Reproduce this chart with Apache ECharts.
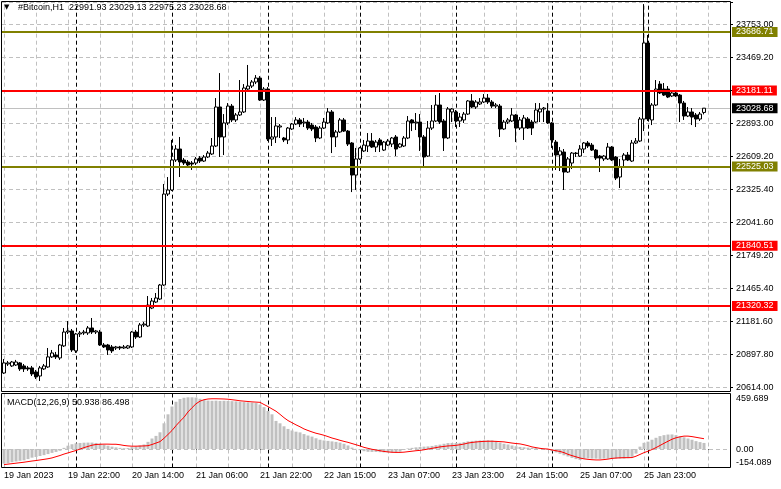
<!DOCTYPE html>
<html><head><meta charset="utf-8">
<script src="https://cdn.jsdelivr.net/npm/echarts@6.0.0/dist/echarts.min.js"></script>
<style>html,body{margin:0;padding:0;background:#fff}#chart{width:781px;height:489px}</style>
</head><body><div id="chart"></div>
<script>
// ---------------- data ----------------
const symbolName = '#Bitcoin,H1';
const timeLabels = ['19 Jan 2023','19 Jan 22:00','20 Jan 14:00','21 Jan 06:00','21 Jan 22:00','22 Jan 15:00','23 Jan 07:00','23 Jan 23:00','24 Jan 15:00','25 Jan 07:00','25 Jan 23:00'];
const priceTickLabels = ['20614.00','20897.80','21181.60','21465.40','21749.20','22041.60','22325.40','22609.20','22893.00','','23469.20','23753.00'];
const priceTickMin = 20614, priceTickMax = 23753, priceTop = 23946;
const levelValues = [23686.71, 23181.11, 22525.03, 21840.51, 21320.32];
const levelColors = ['#808000','#ff0000','#808000','#ff0000','#ff0000'];
const daySeparators = [18, 42, 66, 89, 113, 137, 161];

const open = [
20741,20819,20802,20810,20828,20802,20785,20785,20750,20715,
20776,20793,20880,20897,20871,20975,21095,21104,20932,21078,
21087,21087,21130,21095,21095,20983,20983,20966,20957,20966,
20957,20957,20966,21095,21052,21156,21147,21302,21354,21380,
21501,22287,22322,22581,22676,22581,22564,22555,22555,22598,
22572,22607,22633,22702,23039,22780,22901,23047,22927,22970,
22996,23194,23220,23255,23289,23099,23194,22762,22780,22866,
22771,22754,22849,22892,22927,22901,22909,22883,22866,22771,
22857,22901,22996,22780,22823,22927,22831,22728,22451,22590,
22659,22702,22745,22693,22754,22667,22710,22719,22780,22693,
22702,22771,22927,22901,22909,22780,22615,22857,22918,23056,
22918,22771,22996,22996,22918,22927,22978,23091,23039,23065,
23082,23116,23082,23047,23047,22849,22909,22918,22970,22857,
22857,22935,22909,22909,22996,23022,23004,22901,22736,22624,
22650,22477,22555,22641,22615,22676,22728,22710,22667,22615,
22590,22590,22693,22607,22434,22581,22624,22572,22728,22745,
22935,23592,22927,23056,23237,23194,23194,23134,23160,23142,
23073,22961,22996,22970,22935,22991.93];
const high = [
20862,20845,20845,20854,20836,20819,20802,20802,20767,20802,
20819,20957,20940,20923,20992,21130,21190,21121,21087,21104,
21113,21147,21216,21113,21113,21000,20992,20983,20975,20975,
20983,20983,21104,21113,21173,21182,21406,21389,21432,21510,
22374,22434,22754,22710,22780,22598,22581,22572,22607,22615,
22624,22659,22771,23116,23332,22978,23073,23065,22987,23272,
23237,23402,23272,23315,23306,23211,23211,22952,22952,22892,
22780,22866,22901,22952,22944,22944,22927,22901,22883,22875,
22944,23030,23013,22840,22944,22944,22840,22736,22685,22693,
22754,22814,22814,22754,22771,22745,22762,22780,22797,22728,
22788,22961,22935,22987,22978,22797,22918,23056,23142,23160,
22935,23039,23030,23013,22987,22996,23099,23151,23099,23116,
23151,23151,23099,23073,23065,22927,22944,23030,22978,22952,
22970,22952,22927,23073,23073,23039,23073,22909,22754,22693,
22676,22607,22650,22650,22710,22736,22745,22728,22676,22624,
22624,22728,22702,22615,22590,22641,22650,22754,22771,22952,
23928,23661,23073,23272,23263,23246,23220,23177,23177,23151,
23091,23039,23030,22987,22996,23029.13];
const low = [
20733,20802,20793,20802,20759,20750,20759,20715,20689,20672,
20767,20785,20871,20862,20854,20966,21078,20923,20914,21052,
21070,21070,21078,21078,20975,20957,20897,20914,20940,20940,
20949,20949,20957,21035,21044,21139,21139,21293,21346,21372,
21493,22270,22313,22564,22434,22538,22512,22495,22538,22555,
22564,22598,22624,22693,22607,22624,22883,22909,22909,22961,
22987,23186,23203,23237,23091,23091,22745,22702,22728,22771,
22736,22719,22840,22883,22866,22866,22840,22831,22736,22762,
22849,22892,22641,22693,22814,22823,22702,22304,22322,22581,
22650,22650,22685,22650,22650,22659,22702,22693,22615,22685,
22693,22762,22831,22840,22659,22529,22607,22840,22909,22892,
22659,22762,22909,22866,22866,22901,22970,23030,23022,23056,
23073,23065,23030,23030,22780,22840,22892,22909,22736,22840,
22754,22849,22797,22901,22909,22909,22892,22685,22495,22486,
22322,22469,22503,22607,22607,22641,22685,22659,22581,22477,
22572,22581,22572,22408,22339,22520,22572,22564,22719,22736,
22831,22918,22883,23047,23151,23134,23116,23125,23125,22909,
22927,22952,22883,22866,22918,22975.23];
const close = [
20828,20828,20836,20836,20776,20776,20776,20733,20707,20785,
20802,20880,20914,20880,20983,21095,21104,20940,21078,21087,
21095,21130,21095,21104,20983,20966,20940,20932,20966,20957,
20966,20975,21095,21052,21156,21164,21328,21363,21389,21501,
22287,22322,22581,22676,22564,22555,22538,22546,22590,22572,
22607,22641,22702,23039,22780,22901,23047,22927,22970,22996,
23203,23220,23255,23289,23099,23194,22762,22780,22875,22875,
22754,22857,22892,22927,22892,22909,22857,22849,22771,22857,
22909,22996,22780,22823,22927,22831,22719,22451,22590,22685,
22710,22745,22693,22736,22710,22736,22745,22771,22676,22719,
22771,22918,22901,22909,22780,22607,22857,22918,23056,22909,
22771,23022,23022,22918,22952,22978,23091,23039,23082,23082,
23116,23082,23047,23056,22849,22909,22927,22970,22857,22927,
22944,22857,22857,23013,23022,23030,22901,22754,22624,22659,
22477,22590,22641,22637,22676,22728,22702,22667,22598,22598,
22615,22693,22581,22425,22520,22624,22581,22728,22745,22935,
23592,22935,23056,23194,23160,23142,23125,23160,23134,23073,
22961,22996,22952,22935,22978,23028.68];

const macdHist = [
-122,-118,-110,-104,-98,-94,-84,-72,-66,-58,
-51,-42,-32,-24,-14,10,28,40,48,51,
53,54,54,51,44,36,28,20,14,10,
7,8,16,22,30,38,60,88,110,140,
215,290,355,395,418,428,432,432,430,420,
412,405,403,404,402,403,402,400,398,395,
392,390,388,384,372,350,318,290,235,215,
190,168,155,145,139,125,113,104,90,78,
72,68,64,60,54,44,30,12,2,-9,
-18,-23,-24,-24,-26,-28,-28,-28,-28,-22,
-8,5,10,14,17,20,22,26,32,37,
44,50,51,51,52,58,64,68,70,72,
73,74,72,65,54,44,38,30,23,18,
15,12,10,9,6,2,-8,-18,-28,-40,
-52,-62,-74,-84,-91,-80,-78,-80,-80,-82,
-80,-80,-81,-80,-80,-80,-76,-65,-38,20,
52,62,78,94,108,116,121,122,116,106,
98,88,78,66,58,50.938];
const macdSignal = [
-130,-126,-122,-118,-114,-110,-105,-100,-96,-91,
-86,-81,-74,-64,-54,-42,-32,-22,-12,0,
12,22,32,38,40,41,41,40,40,36,
30,26,24,24,25,26,28,38,50,62,
90,122,155,195,232,265,310,345,378,400,
412,418,420,420,419,418,416,412,408,403,
400,397,394,392,390,372,355,335,316,290,
262,238,220,202,186,168,155,143,132,124,
115,104,92,83,73,64,56,46,36,26,
14,6,-2,-8,-14,-20,-24,-27,-28,-28,
-26,-22,-18,-14,-11,-6,0,6,12,18,
22,26,28,31,36,42,50,55,59,62,
64,65,65,64,62,60,55,50,46,43,
36,28,18,12,6,2,0,-8,-14,-20,
-30,-44,-55,-65,-75,-82,-86,-89,-91,-91,
-88,-84,-78,-75,-73,-72,-72,-71,-60,-45,
-30,-18,-4,12,30,48,65,82,94,102,
108,108,104,98,92,86.498];
const macdMin = -154.089, macdMax = 459.689;

// ---------------- chart ----------------
const FONT = 'Liberation Sans';
const N = close.length;
const SLOTS = 182;                       // bars + right-side shift
const categories = Array.from({length: SLOTS}, (_, i) => String(i));
const priceStep = (priceTickMax - priceTickMin) / 11;
const last = N - 1;

const candleData = open.map((o, i) => [o, close[i], low[i], high[i]]);

const gridVerticals = [];
for (let i = 0; i < SLOTS; i += 8) gridVerticals.push(i);

const grayDash = {color: '#c0c0c0', type: [4, 3], width: 1};
const blackDash = {color: '#000', type: [4, 3], width: 1};

function verticalLines() {
  return gridVerticals.map(i => ({xAxis: i, lineStyle: grayDash}))
    .concat(daySeparators.map(i => ({xAxis: i, lineStyle: blackDash})));
}

const boxLabel = (bg) => ({
  show: true, position: 'end', distance: 2,
  formatter: p => Number(p.value).toFixed(2),
  color: '#fff', backgroundColor: bg, fontFamily: FONT, fontSize: 9,
  lineHeight: 9, padding: [1, 4, 0, 4]
});

const chart = echarts.init(document.getElementById('chart'), null, {renderer: 'canvas'});
chart.setOption({
  animation: false,
  backgroundColor: '#fff',
  title: [
    {
      text: '{tri|▼} ' + symbolName + '  ' + [open[last], high[last], low[last], close[last]].map(v => v.toFixed(2)).join(' '),
      left: 4, top: 3, padding: 0,
      textStyle: {fontFamily: FONT, fontSize: 9, fontWeight: 'normal', color: '#000',
        rich: {tri: {fontFamily: 'DejaVu Sans', fontSize: 7, color: '#000', padding: [0, 6, 0, 0]}}}
    },
    {
      text: 'MACD(12,26,9) ' + macdHist[last].toFixed(3) + ' ' + macdSignal[last].toFixed(3),
      left: 7, top: 398, padding: 0,
      textStyle: {fontFamily: FONT, fontSize: 9, fontWeight: 'normal', color: '#000'}
    }
  ],
  grid: [
    {left: 2, width: 728, top: 2, height: 385.7, outerBoundsMode: 'none', containLabel: false},
    {left: 2, width: 728, top: 394, height: 73.5, outerBoundsMode: 'none', containLabel: false}
  ],
  xAxis: [
    {gridIndex: 0, type: 'category', data: categories, boundaryGap: true,
     axisLine: {show: false}, axisTick: {show: false}, axisLabel: {show: false}, splitLine: {show: false}},
    {gridIndex: 1, type: 'category', data: categories, boundaryGap: true,
     axisLine: {show: false},
     axisTick: {show: true, interval: 15, alignWithLabel: true, length: 3, lineStyle: {color: '#000'}},
     axisLabel: {show: true, interval: 15, align: 'left', margin: 4, fontFamily: FONT, fontSize: 9, color: '#000',
       formatter: (v, idx) => (idx % 16 === 0 && timeLabels[idx / 16]) ? timeLabels[idx / 16] : ''},
     splitLine: {show: false}}
  ],
  yAxis: [
    {gridIndex: 0, type: 'value', position: 'right', min: priceTickMin, max: priceTop, interval: priceStep,
     axisLine: {show: false},
     axisTick: {show: true, length: 3, lineStyle: {color: '#000'}},
     axisLabel: {margin: 6, fontFamily: FONT, fontSize: 9, color: '#000',
       formatter: v => {
         const k = Math.round((v - priceTickMin) / priceStep);
         if (k < 0 || k >= priceTickLabels.length) return '';
         return Math.abs(v - (priceTickMin + k * priceStep)) < 0.5 ? priceTickLabels[k] : '';
       }},
     splitLine: {show: true, lineStyle: grayDash}},
    {gridIndex: 1, type: 'value', position: 'right', min: macdMin, max: macdMax, interval: -macdMin,
     axisLine: {show: false}, axisTick: {show: false}, splitLine: {show: false},
     axisLabel: {margin: 6, fontFamily: FONT, fontSize: 9, color: '#000',
       verticalAlignMinLabel: 'bottom', verticalAlignMaxLabel: 'top',
       formatter: v => {
         if (Math.abs(v - macdMax) < 1e-6) return macdMax.toFixed(3);
         if (Math.abs(v - macdMin) < 1e-6) return macdMin.toFixed(3);
         if (Math.abs(v) < 1e-6) return '0.00';
         return '';
       }}}
  ],
  series: [
    {
      type: 'line', xAxisIndex: 0, yAxisIndex: 0, data: [], z: 1, silent: true,
      markLine: {
        z: 1, silent: true, animation: false, symbol: ['none', 'none'],
        label: {show: false},
        data: verticalLines().concat([
          {yAxis: close[last], lineStyle: {color: '#c0c0c0', type: 'solid', width: 1}, label: boxLabel('#000')}
        ])
      }
    },
    {
      type: 'candlestick', xAxisIndex: 0, yAxisIndex: 0, data: candleData, barWidth: 3, z: 2,
      itemStyle: {color: '#fff', color0: '#000', borderColor: '#000', borderColor0: '#000',
        borderColorDoji: '#000', borderWidth: 1},
      markLine: {
        z: 5, silent: true, animation: false, symbol: ['none', 'none'],
        data: levelValues.map((v, i) => ({
          yAxis: v, lineStyle: {color: levelColors[i], type: 'solid', width: 2},
          label: boxLabel(levelColors[i])
        }))
      }
    },
    {
      type: 'line', xAxisIndex: 1, yAxisIndex: 1, data: [], z: 1, silent: true,
      markLine: {
        z: 1, silent: true, animation: false, symbol: ['none', 'none'],
        label: {show: false},
        data: verticalLines().concat([{yAxis: 0, lineStyle: grayDash}])
      }
    },
    {
      type: 'bar', xAxisIndex: 1, yAxisIndex: 1, data: macdHist, barWidth: 3, z: 2,
      itemStyle: {color: '#c0c0c0'}
    },
    {
      type: 'line', xAxisIndex: 1, yAxisIndex: 1, data: macdSignal, z: 3,
      symbol: 'none', smooth: false, lineStyle: {color: '#ff0000', width: 1}, itemStyle: {color: '#ff0000'}
    }
  ],
  graphic: [
    {type: 'rect', z: 100, silent: true, shape: {x: 1.5, y: 1.5, width: 729, height: 390},
     style: {fill: null, stroke: '#000', lineWidth: 1}},
    {type: 'rect', z: 100, silent: true, shape: {x: 1.5, y: 393.5, width: 729, height: 74},
     style: {fill: null, stroke: '#000', lineWidth: 1}}
  ]
});
</script>
</body></html>
